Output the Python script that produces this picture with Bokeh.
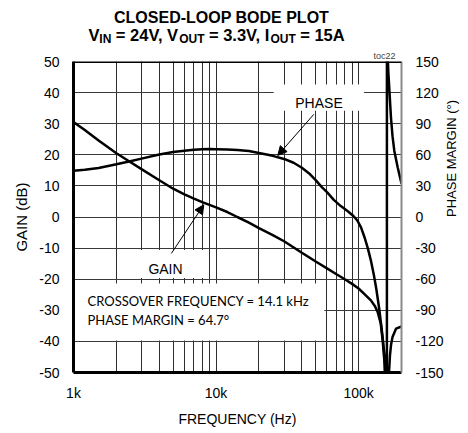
from math import pi
from bokeh.plotting import figure
from bokeh.layouts import column
from bokeh.models import (Range1d, LinearAxis, FixedTicker, Label, Span,
                          BoxAnnotation, Arrow, NormalHead, ColumnDataSource)
from bokeh.core.properties import value
from bokeh.embed import file_html
from bokeh.resources import INLINE

# ---------------- data ----------------
gain_freq = [1000, 1200, 1500, 2000, 2500, 3000, 4000, 5000, 6000, 7000, 8000,
             10000, 12000, 14100, 17000, 20000, 25000, 30000, 40000, 50000,
             60000, 70000, 80000, 90000, 100000, 110000, 122000, 130000,
             136000, 143000, 147500, 151500, 154500, 157500, 160500, 163400,
             166000, 169000, 173000, 183000, 200000]
gain_db = [30.5, 28.0, 24.6, 20.5, 17.7, 15.4, 11.8, 9.1, 7.3, 5.9, 4.8,
           3.1, 1.6, 0.0, -1.8, -3.6, -5.8, -7.8, -11.5, -14.3,
           -16.5, -18.4, -20.0, -21.5, -23.0, -24.8, -26.8, -28.6,
           -30.5, -34.2, -39.7, -46.0, -56.0, -70.0, -58.0, -50.0,
           -44.5, -41.0, -38.6, -35.9, -35.2]

phase_freq = [1000, 1200, 1500, 2000, 2500, 3000, 4000, 5000, 6000, 7000, 8000,
              9000, 10000, 12000, 14100, 17000, 20000, 25000, 30000, 35000,
              40000, 45000, 50000, 55000, 60000, 67000, 75000, 84000, 92000,
              98000, 104000, 110000, 116000, 122000, 128000, 133000, 140000,
              147500, 151500, 155000, 158000, 158000, 161500, 168700, 173000,
              178000, 188000, 200000]
phase_deg = [44.5, 45.5, 47.3, 50.8, 53.8, 56.3, 60.2, 62.6, 64.0, 64.9, 65.3,
             65.5, 65.4, 65.1, 64.7, 63.6, 61.8, 59.0, 56.0, 52.3,
             47.5, 42.0, 35.5, 29.0, 24.0, 16.5, 10.5, 5.5, 1.0,
             -3.4, -10.0, -19.5, -30.0, -42.0, -56.0, -69.0, -90.0,
             -116.0, -132.0, -148.0, -180.0, 180.0, 141.0, 96.0, 78.0,
             64.0, 48.0, 32.0]

gain_ticks = [-50, -40, -30, -20, -10, 0, 10, 20, 30, 40, 50]
gain_tick_labels = ["-50", "-40", "-30", "-20", "-10", "0", "10", "20", "30",
                    "40", "50"]
phase_ticks = [-150, -120, -90, -60, -30, 0, 30, 60, 90, 120, 150]
phase_tick_labels = ["-150", "-120", "-90", "-60", "-30", "0", "30", "60",
                     "90", "120", "150"]
freq_ticks = [1000, 10000, 100000]
freq_tick_labels = ["1k", "10k", "100k"]
grid_freqs = [2000, 3000, 4000, 5000, 6000, 7000, 8000, 9000, 10000,
              20000, 30000, 40000, 50000, 60000, 70000, 80000, 90000, 100000]

title1 = "CLOSED-LOOP BODE PLOT"
title2_parts = [("V", "m"), ("IN", "s"), (" = 24V, V", "m"), ("OUT", "s"),
                (" = 3.3V, I", "m"), ("OUT", "s"), (" = 15A", "m")]
note1 = "CROSSOVER FREQUENCY = 14.1 kHz"
note2 = "PHASE MARGIN = 64.7\u00b0"

# ---------------- layout (page pixel coordinates) ----------------
FL, FR, FT, FB = 73, 401, 61, 372
W = 467
HT = 47          # height of the title strip
TOPB = FT - HT   # top border of the plot (holds the small "toc22" title)
SANS = "Liberation Sans"
BL = 0.33        # baseline correction (fraction of the font size)

# ---------- title strip (its frame is aligned with the plot frame) ----------
tfig = figure(width=W, height=HT, x_range=Range1d(FL, FR), y_range=Range1d(HT, 0),
              min_border=0, min_border_left=FL, min_border_right=W - FR,
              min_border_top=0, min_border_bottom=0,
              x_axis_location=None, y_axis_location=None,
              output_backend="svg", toolbar_location=None,
              background_fill_color="white", border_fill_color="white")
try:
    tfig.title = None
except Exception:
    tfig.title.visible = False
tfig.outline_line_color = None
tfig.xgrid.visible = False
tfig.ygrid.visible = False

AB = {' ': 278, '=': 584, ',': 278, '.': 278, 'V': 667, 'I': 278, 'N': 722,
      'O': 778, 'U': 722, 'T': 611, 'A': 722}
for d in "0123456789":
    AB[d] = 556
MS, SS = 16.5, 12
tx, ty, tt, ts = [], [], [], []
xpos = 88.0
for txt, kind in title2_parts:
    size = MS if kind == "m" else SS
    lead = len(txt) - len(txt.lstrip(" "))
    xpos += lead * AB[' '] * size / 1000
    core = txt.strip(" ")
    tx.append(xpos)
    base = 39.5 if kind == "m" else 42.8
    ty.append(base - BL * size)
    tt.append(core)
    ts.append(f"{size}px")
    xpos += sum(AB[c] for c in core) * size / 1000
src = ColumnDataSource(dict(x=tx, y=ty, text=tt, size=ts))
tfig.text(x="x", y="y", text="text", source=src, text_font=value(SANS),
          text_font_size="size", text_font_style="bold", text_color="black",
          text_align="left", text_baseline="alphabetic")
tfig.text(x=[222], y=[22.7 - BL * 16], text=[title1], text_font=value(SANS),
          text_font_size="16px", text_font_style="bold", text_color="black",
          text_align="center", text_baseline="alphabetic")

# ---------- main plot ----------
p = figure(x_axis_type="log", x_range=Range1d(1000, 200000),
           y_range=Range1d(-50, 50),
           frame_width=FR - FL, frame_height=FB - FT,
           min_border_left=FL, min_border_top=TOPB,
           min_border_right=W - FR, min_border_bottom=50,
           output_backend="svg", toolbar_location=None,
           background_fill_color="white", border_fill_color="white")
p.outline_line_color = None
p.title.text = "toc22"
p.title.align = "right"
p.title.text_font = SANS
p.title.text_font_size = "9px"
p.title.text_font_style = "normal"
p.title.standoff = 1
p.title.offset = 6
p.extra_y_ranges = {"phase": Range1d(-150, 150)}

# grids
p.xgrid.ticker = FixedTicker(ticks=grid_freqs)
p.xgrid.grid_line_color = "#2e2e2e"
p.xgrid.grid_line_width = 1
p.ygrid.grid_line_color = "#3a3a3a"
p.ygrid.grid_line_width = 1


def style_axis(ax, lw, color="black"):
    ax.major_tick_line_color = None
    ax.minor_tick_line_color = None
    ax.major_tick_out = 0
    ax.major_tick_in = 0
    ax.minor_tick_out = 0
    ax.minor_tick_in = 0
    ax.axis_line_width = lw
    ax.axis_line_color = color
    ax.major_label_text_font = SANS
    ax.major_label_text_font_size = "14px"
    ax.major_label_text_color = "black"
    ax.axis_label_text_font = SANS
    ax.axis_label_text_font_size = "14px"
    ax.axis_label_text_font_style = "normal"
    ax.axis_label_text_color = "black"


xa = p.xaxis[0]
style_axis(xa, 3)
xa.ticker = FixedTicker(ticks=freq_ticks)
xa.major_label_overrides = dict(zip(freq_ticks, freq_tick_labels))
xa.major_label_standoff = 12
xa.axis_label = "FREQUENCY (Hz)"
xa.axis_label_standoff = 7

ya = p.yaxis[0]
style_axis(ya, 3)
ya.ticker = FixedTicker(ticks=gain_ticks)
ya.major_label_overrides = dict(zip(gain_ticks, gain_tick_labels))
ya.major_label_standoff = 14
ya.axis_label = "GAIN (dB)"
ya.axis_label_text_font_size = "15px"
ya.axis_label_standoff = 6

ra = LinearAxis(y_range_name="phase", ticker=FixedTicker(ticks=phase_ticks))
style_axis(ra, 2, "#8a8a8a")
ra.major_label_overrides = dict(zip(phase_ticks, phase_tick_labels))
ra.major_label_standoff = 14
ra.axis_label = "PHASE MARGIN (\u00b0)"
ra.axis_label_text_font_size = "13px"
ra.axis_label_standoff = 5
try:
    ra.axis_label_orientation = pi / 2
    ra.axis_label_text_align = "center"
except Exception:
    pass
p.add_layout(ra, "right")

# top frame edge
p.add_layout(Span(location=50, dimension="width", line_color="black",
                  line_width=3))

# white label boxes that hide the grid
for l, r, b, t in [(25400, 109000, 34.2, 42.6),
                   (2850, 8860, -19.6, -10.6),
                   (1000, 57500, -39.7, -21.4)]:
    p.add_layout(BoxAnnotation(left=l, right=r, bottom=b, top=t,
                               fill_color="white", fill_alpha=1.0,
                               line_color=None, level="underlay"))

# curves
p.line(gain_freq, gain_db, line_color="black", line_width=2.5)
p.line(phase_freq, phase_deg, y_range_name="phase",
       line_color="black", line_width=2.5)

# arrows
p.add_layout(Arrow(end=NormalHead(size=9, fill_color="black", line_color="black"),
                   x_start=48500, y_start=33.0, x_end=27100, y_end=19.8,
                   line_color="black", line_width=1))
p.add_layout(Arrow(end=NormalHead(size=9, fill_color="black", line_color="black"),
                   x_start=4860, y_start=-11.7, x_end=8200, y_end=3.9,
                   line_color="black", line_width=1))


def lab(text, px, py, size, font=SANS, align="left"):
    p.add_layout(Label(x=px - FL, y=FB - (py - BL * size),
                       x_units="screen", y_units="screen",
                       text=text, text_font=font,
                       text_font_size=f"{size}px", text_align=align,
                       text_baseline="alphabetic", text_color="black"))


lab("PHASE", 318.5, 106.7, 14, align="center")
lab("GAIN", 165, 273.3, 14, align="center")
lab(note1, 87, 305, 13, font="Lato")
lab(note2, 87, 324, 13, font="Lato")

layout = column(tfig, p, spacing=0)
open("out.html", "w").write(file_html(layout, INLINE))
